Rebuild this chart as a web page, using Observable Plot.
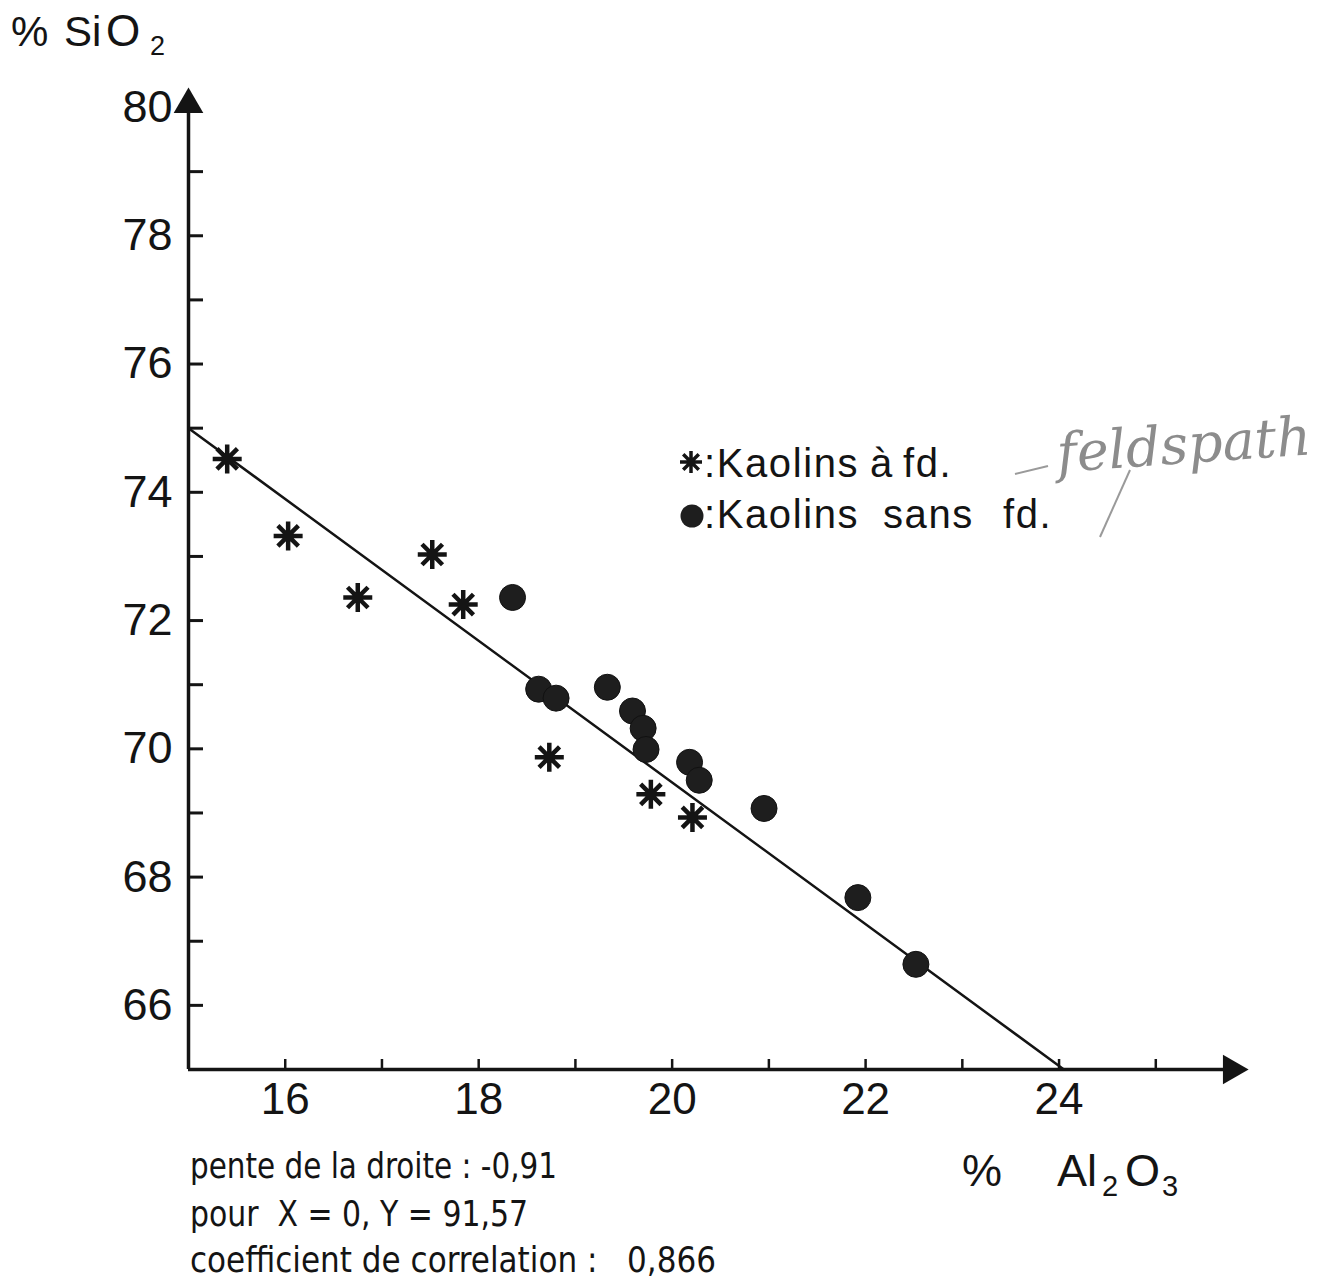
<!DOCTYPE html>
<html><head><meta charset="utf-8">
<script src="https://cdn.jsdelivr.net/npm/d3@7"></script>
<script src="https://cdn.jsdelivr.net/npm/@observablehq/plot@0.6"></script>
<style>
body{margin:0;background:#fff;}
#wrap{position:relative;width:1333px;height:1282px;overflow:hidden;}
</style></head><body><div id="wrap"></div>
<script>
// ---- data ----
const avecX = [15.40, 16.03, 16.75, 17.52, 17.84, 18.73, 19.78, 20.21];
const avecY = [74.52, 73.32, 72.36, 73.03, 72.25, 69.87, 69.29, 68.93];
const sansX = [18.35, 18.62, 18.80, 19.33, 19.59, 19.70, 19.73, 20.18, 20.28, 20.95, 21.92, 22.52];
const sansY = [72.36, 70.93, 70.79, 70.96, 70.59, 70.32, 69.99, 69.79, 69.51, 69.07, 67.68, 66.64];
const droiteX = [15, 24.05];
const droiteY = [75.0, 65];
const xDomain = [15, 25.7];
const yDomain = [65, 80];
const xLabels = [16, 18, 20, 22, 24];
const xTicks = [16, 17, 18, 19, 20, 21, 22, 23, 24, 25];
const yLabels = [66, 68, 70, 72, 74, 76, 78, 80];
const yTicks = [66, 67, 68, 69, 70, 71, 72, 73, 74, 75, 76, 77, 78, 79];
const legendLabels = ["Kaolins à fd.", "Kaolins sans fd."];
const statLines = ["pente de la droite : -0,91", "pour  X = 0, Y = 91,57", "coefficient de correlation :   0,866"];
const annotation = "feldspath";

const ink = "#141414";
const asterisk8 = {
  draw(ctx, size) {
    const r = Math.sqrt(size / Math.PI);
    for (let i = 0; i < 4; i++) {
      const a = i * Math.PI / 4;
      const dx = r * Math.cos(a), dy = r * Math.sin(a);
      ctx.moveTo(-dx, -dy); ctx.lineTo(dx, dy);
    }
  }
};

const avec = avecX.map((x, i) => ({x, y: avecY[i]}));
const sans = sansX.map((x, i) => ({x, y: sansY[i]}));
const droite = droiteX.map((x, i) => ({x, y: droiteY[i]}));

const plot = Plot.plot({
  width: 1333, height: 1282,
  marginTop: 107, marginLeft: 188, marginRight: 110, marginBottom: 213,
  x: {domain: xDomain},
  y: {domain: yDomain},
  style: {fontFamily: "'Liberation Sans', Arial, sans-serif", background: "#fff", color: ink, overflow: "visible"},
  marks: [
    Plot.axisY({ticks: yTicks, tickSize: -15, tickFormat: () => "", strokeWidth: 3, label: null}),
    Plot.axisY({ticks: yLabels, tickSize: 0, tickPadding: 16, fontSize: 45, label: null}),
    Plot.axisX({ticks: xTicks, tickSize: -10, tickFormat: () => "", strokeWidth: 2.5, label: null}),
    Plot.axisX({ticks: xLabels, tickSize: 0, tickPadding: 13, fontSize: 44, label: null}),
    Plot.ruleX([xDomain[0]], {y1: yDomain[0], y2: yDomain[1], stroke: ink, strokeWidth: 3.5}),
    Plot.ruleY([yDomain[0]], {x1: xDomain[0], x2: xDomain[1], stroke: ink, strokeWidth: 3.5}),
    Plot.dot([{x: xDomain[0], y: yDomain[1]}], {x: "x", y: "y", symbol: "triangle", r: 11, fill: ink, dy: -3}),
    Plot.dot([{x: xDomain[1], y: yDomain[0]}], {x: "x", y: "y", symbol: "triangle", r: 11, fill: ink, rotate: 90, dx: 8}),
    Plot.line(droite, {x: "x", y: "y", stroke: ink, strokeWidth: 2.5}),
    Plot.dot(sans, {x: "x", y: "y", r: 13, fill: "#1e1e1e", stroke: "#111", strokeWidth: 1}),
    Plot.dot(avec, {x: "x", y: "y", symbol: asterisk8, r: 14.5, stroke: ink, strokeWidth: 4.5, fill: "none"})
  ]
});
document.getElementById("wrap").appendChild(plot);

// ---- annotations (text) ----
const svg = d3.select(plot);
const g = svg.append("g").attr("fill", ink).attr("text-anchor", "start")
  .style("font-family", "'Liberation Sans', Arial, sans-serif");

// y title: % SiO2
const t1 = g.append("text").attr("font-size", 42);
t1.append("tspan").attr("x", 11).attr("y", 46).text("%");
t1.append("tspan").attr("x", 64).attr("y", 46).text("Si");
t1.append("tspan").attr("x", 106).attr("y", 46).attr("font-size", 44).text("O");
t1.append("tspan").attr("x", 150).attr("y", 55).attr("font-size", 27).text("2");

// x title: % Al2O3
const t2 = g.append("text").attr("font-size", 45);
t2.append("tspan").attr("x", 962).attr("y", 1186).text("%");
t2.append("tspan").attr("x", 1057).attr("y", 1186).text("Al");
t2.append("tspan").attr("x", 1102).attr("y", 1196).attr("font-size", 29).text("2");
t2.append("tspan").attr("x", 1125).attr("y", 1186).text("O");
t2.append("tspan").attr("x", 1162).attr("y", 1196).attr("font-size", 29).text("3");

// legend
g.append("path").attr("transform", "translate(691,462)")
  .attr("d", d3.symbol(asterisk8, 11 * 11 * Math.PI)())
  .attr("fill", "none").attr("stroke", ink).attr("stroke-width", 3.5);
g.append("circle").attr("cx", 692).attr("cy", 516).attr("r", 11.5).attr("fill", "#1e1e1e");
const legBase = [477, 528];
const legWordX = [[704, 870, 903], [704, 883, 1003]];
legendLabels.forEach((s, i) => {
  const t = g.append("text").attr("y", legBase[i]).attr("font-size", 40).style("letter-spacing", "1.6px");
  s.split(" ").forEach((w, j) => t.append("tspan").attr("x", legWordX[i][j]).text(j === 0 ? ":" + w : w));
});

// handwritten note
const hw = g.append("g").attr("stroke", "#9a9a9a").attr("fill", "none").attr("stroke-width", 2);
hw.append("path").attr("d", "M1015,474 L1048,466");
hw.append("path").attr("d", "M1130,470 L1100,537");
g.append("text").attr("x", 1058).attr("y", 472).attr("font-size", 54)
  .attr("transform", "rotate(-4 1058 472)")
  .attr("fill", "#8c8c8c").style("font-family", "'DejaVu Serif', serif").style("font-style", "italic")
  .text(annotation);

// regression statistics
const statBase = [1178, 1226, 1272];
const statWidth = [367, 338, 526];
statLines.forEach((s, i) => {
  g.append("text").attr("x", 190).attr("y", statBase[i]).attr("font-size", 36)
    .attr("xml:space", "preserve").style("white-space", "pre")
    .attr("textLength", statWidth[i]).attr("lengthAdjust", "spacingAndGlyphs")
    .style("font-family", "'DejaVu Sans Condensed', 'DejaVu Sans', sans-serif")
    .text(s);
});
</script></body></html>
